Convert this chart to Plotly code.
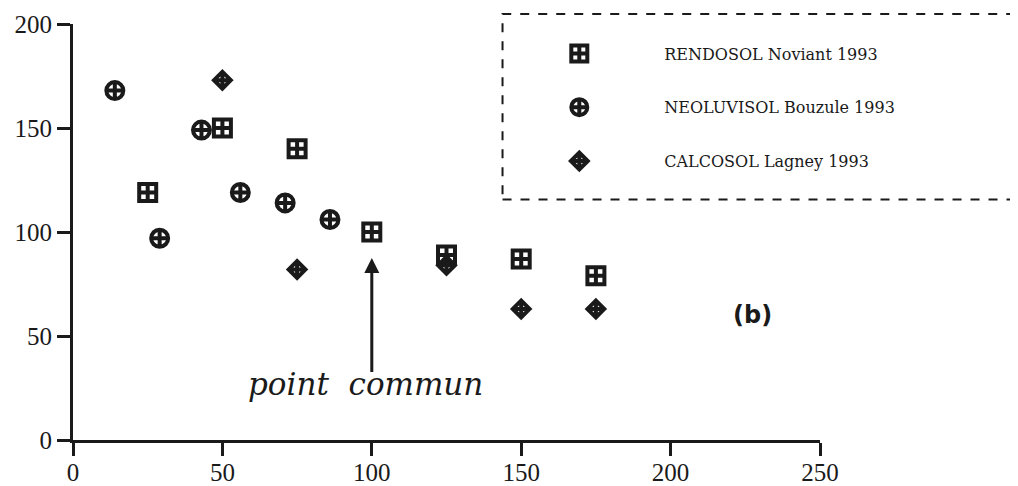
import plotly.graph_objects as go

# Data
rendosol_x = [25, 50, 75, 100, 125, 150, 175]
rendosol_y = [119, 150, 140, 100, 89, 87, 79]

neoluvisol_x = [14, 29, 43, 56, 71, 86]
neoluvisol_y = [168, 97, 149, 119, 114, 106]

calcosol_x = [50, 75, 125, 150, 175]
calcosol_y = [173, 82, 84, 63, 63]

series_names = ["RENDOSOL Noviant 1993", "NEOLUVISOL Bouzule 1993", "CALCOSOL Lagney 1993"]
x_ticks = [0, 50, 100, 150, 200, 250]
y_ticks = [0, 50, 100, 150, 200]

fig = go.Figure()

fig.add_trace(go.Scatter(
    x=calcosol_x, y=calcosol_y, mode="markers", name=series_names[2],
    marker=dict(symbol="diamond-cross-open", size=13, color="#1a1a1a",
                line=dict(width=4, color="#1a1a1a")),
    legendrank=3, legendgroup="c"))
fig.add_trace(go.Scatter(
    x=neoluvisol_x, y=neoluvisol_y, mode="markers", name=series_names[1],
    marker=dict(symbol="circle-cross-open", size=17, color="#1a1a1a",
                line=dict(width=4, color="#1a1a1a")),
    legendrank=2, legendgroup="b"))
fig.add_trace(go.Scatter(
    x=rendosol_x, y=rendosol_y, mode="markers", name=series_names[0],
    marker=dict(symbol="square-cross-open", size=17, color="#1a1a1a",
                line=dict(width=4, color="#1a1a1a")),
    legendrank=1, legendgroup="a"))

# dashed legend frame (right side runs off the page)
fig.add_shape(type="rect", xref="paper", yref="paper",
              x0=0.575, x1=1.30, y0=0.578, y1=1.024,
              line=dict(color="#1a1a1a", width=2, dash="dash"),
              fillcolor="rgba(0,0,0,0)")

# arrow pointing to the common point
fig.add_annotation(x=100, y=87.5, ax=100, ay=32, xref="x", yref="y",
                   axref="x", ayref="y", text="", showarrow=True,
                   arrowhead=2, arrowsize=1, arrowwidth=3, arrowcolor="#1a1a1a")
fig.add_annotation(x=98, y=27, xref="x", yref="y", text="point  commun",
                   showarrow=False,
                   font=dict(family="DejaVu Serif", size=31, color="#1a1a1a",
                             style="italic"))
fig.add_annotation(x=227.5, y=60, xref="x", yref="y", text="<b>(b)</b>",
                   showarrow=False,
                   font=dict(family="DejaVu Sans", size=24, color="#1a1a1a"))

axis_common = dict(showline=True, linewidth=3, linecolor="#1a1a1a",
                   ticks="outside", ticklen=13, tickwidth=3, tickcolor="#1a1a1a",
                   showgrid=False, zeroline=False, automargin=False,
                   tickfont=dict(family="Liberation Serif", size=25, color="#1a1a1a"))

fig.update_xaxes(range=[0, 250], tickvals=x_ticks, ticklabelstandoff=-5, **axis_common)
fig.update_yaxes(range=[0, 200], tickvals=y_ticks, **axis_common)

# page body has an 8px margin, so the figure is sized/offset to compensate
fig.update_layout(
    width=1010, height=478,
    margin=dict(l=65, r=198, t=16, b=46),
    plot_bgcolor="white", paper_bgcolor="white",
    showlegend=True,
    legend=dict(x=0.564, y=0.97, xanchor="left", yanchor="top",
                bgcolor="rgba(0,0,0,0)", borderwidth=0,
                font=dict(family="DejaVu Serif", size=16, color="#1a1a1a"),
                itemwidth=160, tracegroupgap=30, traceorder="grouped"),
)

fig.write_html("out.html")
